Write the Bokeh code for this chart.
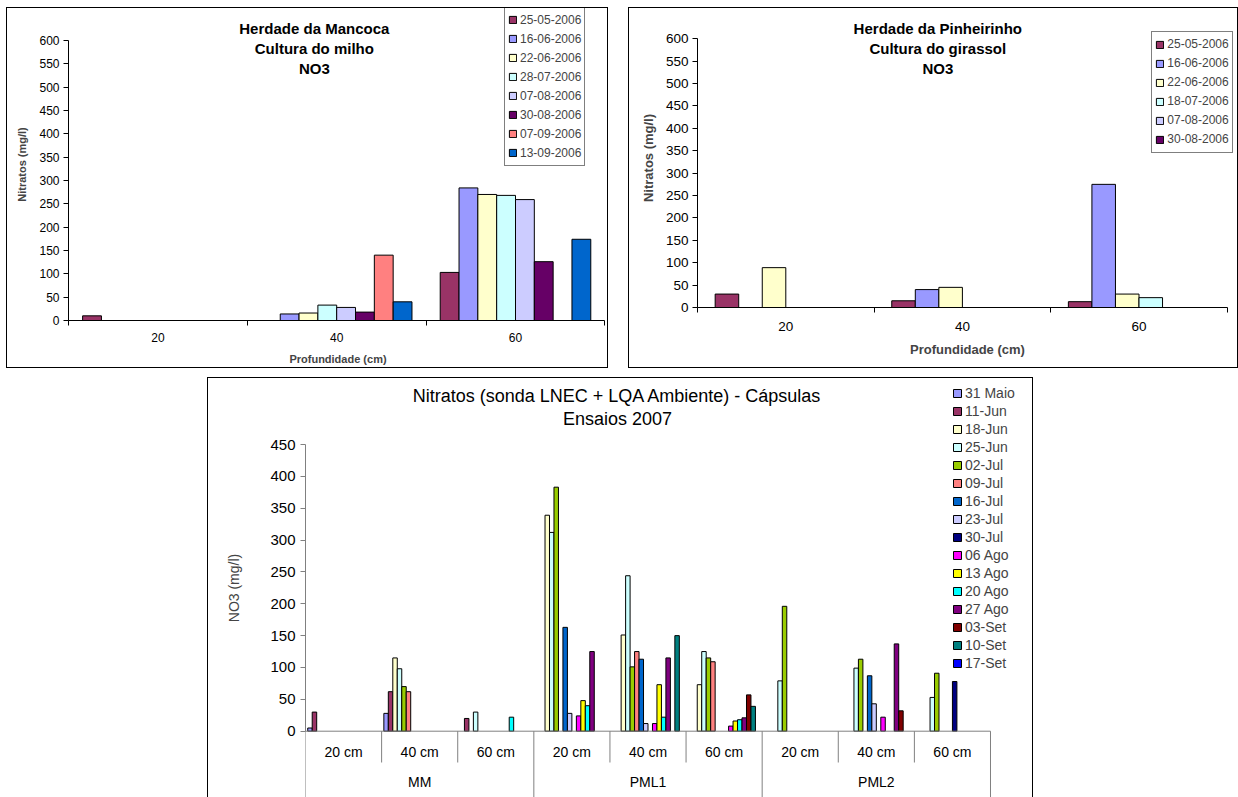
import numpy as np
from bokeh.plotting import figure
from bokeh.models import Range1d, FixedTicker, Legend, LegendItem, Label, Spacer
from bokeh.layouts import row, column
from bokeh.core.properties import value
from bokeh.embed import file_html
from bokeh.resources import INLINE

FONT = "Liberation Sans"
N = None

# ---------------- data ----------------
mancoca_depths = ["20", "40", "60"]
mancoca_dates = ["25-05-2006", "16-06-2006", "22-06-2006", "28-07-2006",
                 "07-08-2006", "30-08-2006", "07-09-2006", "13-09-2006"]
mancoca_colors = ["#993366", "#9999FF", "#FFFFCC", "#CCFFFF",
                  "#CCCCFF", "#660066", "#FF8080", "#0066CC"]
mancoca_no3 = [
    [10, N, 103],
    [N, 14, 284],
    [N, 16, 270],
    [N, 33, 268],
    [N, 28, 259],
    [N, 18, 126],
    [N, 140, N],
    [N, 40, 174],
]

pinheirinho_depths = ["20", "40", "60"]
pinheirinho_dates = ["25-05-2006", "16-06-2006", "22-06-2006", "18-07-2006",
                     "07-08-2006", "30-08-2006"]
pinheirinho_colors = ["#993366", "#9999FF", "#FFFFCC", "#CCFFFF", "#CCCCFF", "#660066"]
pinheirinho_no3 = [
    [30, 15, 13],
    [N, 40, 275],
    [89, 45, 30],
    [N, N, 22],
    [N, N, N],
    [N, N, N],
]

ens_sites = ["MM", "PML1", "PML2"]
ens_depths = ["20 cm", "40 cm", "60 cm"]
ens_dates = ["31 Maio", "11-Jun", "18-Jun", "25-Jun", "02-Jul", "09-Jul", "16-Jul", "23-Jul",
             "30-Jul", "06 Ago", "13 Ago", "20 Ago", "27 Ago", "03-Set", "10-Set", "17-Set"]
ens_colors = ["#9999FF", "#993366", "#FFFFCC", "#CCFFFF", "#99CC00", "#FF8080", "#0066CC", "#CCCCFF",
              "#000080", "#FF00FF", "#FFFF00", "#00FFFF", "#800080", "#800000", "#008080", "#0000FF"]
#            MM20 MM40 MM60 P1-20 P1-40 P1-60 P2-20 P2-40 P2-60
ens_no3 = [
    [5,   28,  N,   N,    N,    N,    N,    N,    N],    # 31 Maio
    [30,  62,  20,  N,    N,    N,    N,    N,    N],    # 11-Jun
    [N,   115, N,   339,  151,  73,   N,    N,    N],    # 18-Jun
    [N,   98,  30,  312,  244,  125,  79,   99,   53],   # 25-Jun
    [N,   70,  N,   383,  101,  115,  196,  113,  91],   # 02-Jul
    [N,   62,  N,   N,    125,  109,  N,    N,    N],    # 09-Jul
    [N,   N,   N,   163,  113,  N,    N,    87,   N],    # 16-Jul
    [N,   N,   N,   28,   12,   N,    N,    43,   N],    # 23-Jul
    [N,   N,   N,   N,    N,    N,    N,    N,    78],   # 30-Jul
    [N,   N,   N,   24,   12,   8,    N,    22,   N],    # 06 Ago
    [N,   N,   N,   48,   73,   16,   N,    N,    N],    # 13 Ago
    [N,   N,   22,  40,   22,   18,   N,    N,    N],    # 20 Ago
    [N,   N,   N,   125,  115,  21,   N,    137,  N],    # 27 Ago
    [N,   N,   N,   N,    N,    57,   N,    32,   N],    # 03-Set
    [N,   N,   N,   N,    150,  39,   N,    N,    N],    # 10-Set
    [N,   N,   N,   N,    N,    N,    N,    N,    N],    # 17-Set
]


# ---------------- helpers ----------------
def base_fig(width, height, xr, yr, mbl, mbb, **kw):
    p = figure(width=width, height=height, output_backend="svg", toolbar_location=None,
               x_range=Range1d(*xr), y_range=Range1d(*yr),
               min_border_left=mbl, min_border_right=0, min_border_top=0,
               min_border_bottom=mbb, **kw)
    p.title.visible = False
    p.grid.visible = False
    p.outline_line_color = None
    p.background_fill_color = "white"
    p.border_fill_color = "white"
    return p


def add_bars(p, ncat, dates, colors, vals, gap, lw=1):
    n = len(dates)
    cw = 1.0 / (n + gap)
    out = []
    for i, (d, c, v) in enumerate(zip(dates, colors, vals)):
        xs = [k + 0.5 + (gap / 2 + i + 0.5) * cw for k in range(ncat)]
        tops = np.array([np.nan if t is None else t for t in v], dtype=float)
        r = p.vbar(x=xs, top=tops, bottom=0, width=cw, fill_color=c,
                   line_color="black", line_width=lw)
        out.append((d, r))
    return out


def make_legend(rends, vx, vy, size, lh, glyph, padding, standoff, border):
    return Legend(items=[LegendItem(label=d, renderers=[r]) for d, r in rends],
                  location=(vx, vy), orientation="vertical",
                  label_text_font=FONT, label_text_font_size=size,
                  label_text_baseline="middle",
                  label_height=lh, glyph_height=glyph, glyph_width=glyph,
                  label_standoff=standoff, padding=padding, spacing=0, margin=0,
                  border_line_color=border, border_line_width=1,
                  background_fill_color="white", background_fill_alpha=1.0)


def style_yaxis(ax, top, size, label, lsize, lstyle, standoff, lstandoff, color):
    ax.ticker = FixedTicker(ticks=list(range(0, top + 1, 50)))
    ax.bounds = (0, top)
    ax.major_tick_out = 5
    ax.major_tick_in = 0
    ax.minor_tick_out = 0
    ax.minor_tick_in = 0
    ax.axis_line_color = color
    ax.major_tick_line_color = color
    ax.major_label_text_font = FONT
    ax.major_label_text_font_size = size
    ax.major_label_text_color = "black"
    ax.major_label_standoff = standoff
    ax.axis_label = label
    ax.axis_label_text_font = FONT
    ax.axis_label_text_font_size = lsize
    ax.axis_label_text_font_style = lstyle
    ax.axis_label_standoff = lstandoff


def style_xaxis(ax, cats, size, label, lsize, standoff, lstandoff, color):
    n = len(cats)
    ax.ticker = FixedTicker(ticks=list(range(1, n + 1)),
                            minor_ticks=[k + 0.5 for k in range(n + 1)])
    ax.major_label_overrides = {k + 1: c for k, c in enumerate(cats)}
    ax.bounds = (0.5, n + 0.5)
    ax.major_tick_out = 0
    ax.major_tick_in = 0
    ax.minor_tick_out = 5
    ax.minor_tick_in = 0
    ax.axis_line_color = color
    ax.minor_tick_line_color = color
    ax.major_label_text_font = FONT
    ax.major_label_text_font_size = size
    ax.major_label_text_color = "black"
    ax.major_label_standoff = standoff
    ax.axis_label = label
    ax.axis_label_text_font = FONT
    ax.axis_label_text_font_size = lsize
    ax.axis_label_text_font_style = "bold"
    ax.axis_label_standoff = lstandoff


def title_lines(p, lines, fx, fy, px, pys, size, style):
    for t, py in zip(lines, pys):
        p.add_layout(Label(x=fx(px), y=fy(py), text=t, text_align="center",
                           text_baseline="middle", text_font=FONT,
                           text_font_size=size, text_font_style=style,
                           text_color="black"))


def boxed(fig, no_bottom=False):
    st = {"border": "1px solid #000000"}
    if no_bottom:
        st["border-bottom"] = "none"
    return column(fig, styles=st)


# ---------------- chart 1: Mancoca ----------------
TL_FL, TL_FR, TL_FT, TL_FB = 68, 607, 8, 321
tl_xs = 178.8
tl_ys = (TL_FB - 40) / 600.0
tl_x = lambda px: 0.5 + (px - TL_FL) / tl_xs
tl_y = lambda py: (TL_FB - py) / tl_ys
p1 = base_fig(600, 359, (0.5, tl_x(TL_FR)), (0, tl_y(TL_FT)), 61, 367 - TL_FB)
r1 = add_bars(p1, 3, mancoca_dates, mancoca_colors, mancoca_no3, 1.5)
style_yaxis(p1.yaxis[0], 600, "12px", "Nitratos (mg/l)", "11px", "bold", 4, 8, "black")
style_xaxis(p1.xaxis[0], mancoca_depths, "12px", "Profundidade (cm)", "11px", 7, 8, "black")
title_lines(p1, ["Herdade da Mancoca", "Cultura do milho", "NO3"], tl_x, tl_y,
            313.8, [28, 48, 68], "15px", "bold")
p1.add_layout(make_legend(r1, 504 - TL_FL, TL_FB - (9.3 + 8 * 19 + 6), "12px", 19, 9, 3, 3, "black"))

# ---------------- chart 2: Pinheirinho ----------------
TR_FL, TR_FR, TR_FT, TR_FB = 697, 1237, 8, 307
tr_xs = 176.6
tr_ys = (TR_FB - 38.3) / 600.0
tr_x = lambda px: 0.5 + (px - TR_FL) / tr_xs
tr_y = lambda py: (TR_FB - py) / tr_ys
p2 = base_fig(608, 359, (0.5, tr_x(TR_FR)), (0, tr_y(TR_FT)), TR_FL - 629, 367 - TR_FB)
r2 = add_bars(p2, 3, pinheirinho_dates, pinheirinho_colors, pinheirinho_no3, 1.5)
style_yaxis(p2.yaxis[0], 600, "13.5px", "Nitratos (mg/l)", "13px", "bold", 4, 7, "black")
style_xaxis(p2.xaxis[0], pinheirinho_depths, "13.5px", "Profundidade (cm)", "13px", 9, 8, "black")
title_lines(p2, ["Herdade da Pinheirinho", "Cultura do girassol", "NO3"], tr_x, tr_y,
            937.3, [28, 48, 68], "15px", "bold")
p2.add_layout(make_legend(r2, 1151.3 - TR_FL, TR_FB - (32.7 + 6 * 19 + 6), "12px", 19, 9, 3, 3, "black"))

# ---------------- chart 3: Ensaios 2007 ----------------
B_FL, B_FR, B_FT, B_FB = 305, 1032, 378, 797
b_xs = 76.11
b_zero = 730.7
b_ys = (b_zero - 444.0) / 450.0
b_x = lambda px: 0.5 + (px - B_FL) / b_xs
b_y = lambda py: (b_zero - py) / b_ys
p3 = base_fig(824, 419, (0.5, b_x(B_FR)), (b_y(B_FB), b_y(B_FT)), B_FL - 208, 0,
              x_axis_location=None)
ncat3 = len(ens_sites) * len(ens_depths)
r3 = add_bars(p3, ncat3, ens_dates, ens_colors, ens_no3, 1.0, lw=1)
style_yaxis(p3.yaxis[0], 450, "15px", "NO3 (mg/l)", "14px", "normal", 5, 25, "#808080")

# category axis (two levels) drawn on the value scale
bounds = [k + 0.5 for k in range(ncat3 + 1)]
sub_b = [b for k, b in enumerate(bounds) if k % len(ens_depths) != 0]
grp_b = [b for k, b in enumerate(bounds) if k % len(ens_depths) == 0]
p3.segment(x0=[bounds[0]], y0=[0], x1=[bounds[-1]], y1=[0], line_color="#808080", line_width=1)
p3.segment(x0=sub_b, y0=[0] * len(sub_b), x1=sub_b, y1=[b_y(762)] * len(sub_b),
           line_color="#808080", line_width=1)
p3.segment(x0=grp_b, y0=[0] * len(grp_b), x1=grp_b, y1=[b_y(805)] * len(grp_b),
           line_color="#808080", line_width=1)
sub_labels = [d for s in ens_sites for d in ens_depths]
p3.text(x=list(range(1, ncat3 + 1)), y=[b_y(751)] * ncat3, text=sub_labels,
        text_font=value(FONT), text_font_size="14px", text_align="center",
        text_baseline="middle", text_color="black")
nd = len(ens_depths)
p3.text(x=[k * nd + (nd + 1) / 2 for k in range(len(ens_sites))], y=[b_y(781)] * len(ens_sites),
        text=ens_sites, text_font=value(FONT), text_font_size="14px", text_align="center",
        text_baseline="middle", text_color="black")
title_lines(p3, ["Nitratos (sonda LNEC + LQA Ambiente) - Cápsulas", "Ensaios 2007"], b_x, b_y,
            617, [395.7, 418], "18px", "normal")
p3.add_layout(make_legend(r3, 952 - B_FL, B_FB - (378 + 16 * 18 + 6), "14px", 18, 10, 3, 3, None))

# ---------------- layout ----------------
top = row(Spacer(width=6, height=361), boxed(p1), Spacer(width=20, height=361), boxed(p2))
bottom = row(Spacer(width=207, height=420), boxed(p3, no_bottom=True))
root = column(Spacer(width=1238, height=7), top, Spacer(width=1238, height=9), bottom)

open("out.html", "w").write(file_html(root, INLINE))
